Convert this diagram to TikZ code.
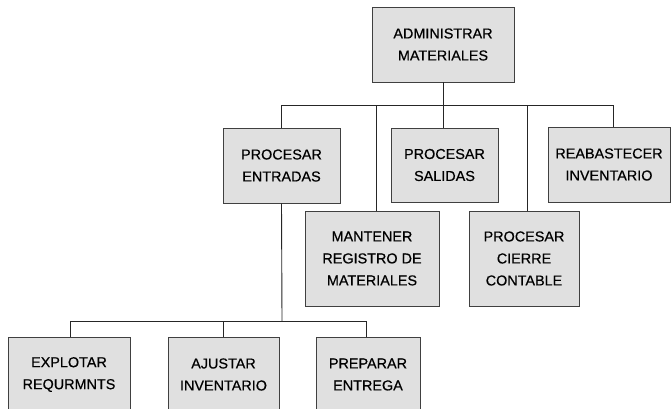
\documentclass[tikz,border=0pt]{standalone}
\usepackage{fontspec}
\setmainfont{Liberation Sans}
\newfontfamily\boxfont{Liberation Sans}[FakeBold=0.5]
\definecolor{boxfill}{HTML}{E0E0E0}
\definecolor{boxline}{HTML}{404040}
\begin{document}
\begin{tikzpicture}[x=1pt,y=1pt,
  pbox/.style={draw=boxline,line width=0.9pt,fill=boxfill,inner sep=0pt,
    align=center,font=\boxfont\fontsize{14.4}{22}\selectfont},
  conn/.style={draw=black!85,line width=0.9pt}]
\clip (0,0) rectangle (671,-409);
\fill[white] (0,0) rectangle (671,-409);
\node[pbox,minimum width=142,minimum height=75] (root) at (443,-44.5) {ADMINISTRAR\\MATERIALES};
\node[pbox,minimum width=117,minimum height=75] (pe) at (281.5,-165.5) {PROCESAR\\ENTRADAS};
\node[pbox,minimum width=107,minimum height=74] (ps) at (444.5,-165) {PROCESAR\\SALIDAS};
\node[pbox,minimum width=122,minimum height=75] (ri) at (609,-164.5) {REABASTECER\\INVENTARIO};
\node[pbox,minimum width=134,minimum height=95] (mr) at (372,-258.5) {MANTENER\\REGISTRO DE\\MATERIALES};
\node[pbox,minimum width=110,minimum height=95] (pc) at (524,-258.5) {PROCESAR\\CIERRE\\CONTABLE};
\node[pbox,minimum width=122,minimum height=75] (ex) at (69,-374.5) {EXPLOTAR\\REQURMNTS};
\node[pbox,minimum width=111,minimum height=75] (aj) at (223.5,-374.5) {AJUSTAR\\INVENTARIO};
\node[pbox,minimum width=104,minimum height=75] (pp) at (368,-374.5) {PREPARAR\\ENTREGA};
\coordinate (b1) at (443,-105);
\coordinate (b2) at (282,-321);
\draw[conn] (root.south) -- (b1);
\draw[conn] (pe.north) -- (pe.north |- b1) -- ([xshift=4]ri.north |- b1) -- ([xshift=4]ri.north);
\draw[conn] ([xshift=4]mr.north) -- ([xshift=4]mr.north |- b1);
\draw[conn] (ps.north -| b1) -- (b1);
\draw[conn] ([xshift=3]pc.north) -- ([xshift=3]pc.north |- b1);
\draw[conn] (pe.south) -- (b2);
\draw[conn] ([xshift=1]ex.north) -- ([xshift=1]ex.north |- b2) -- ([xshift=-2]pp.north |- b2) -- ([xshift=-2]pp.north);
\draw[conn] (aj.north) -- (aj.north |- b2);
\end{tikzpicture}
\end{document}
